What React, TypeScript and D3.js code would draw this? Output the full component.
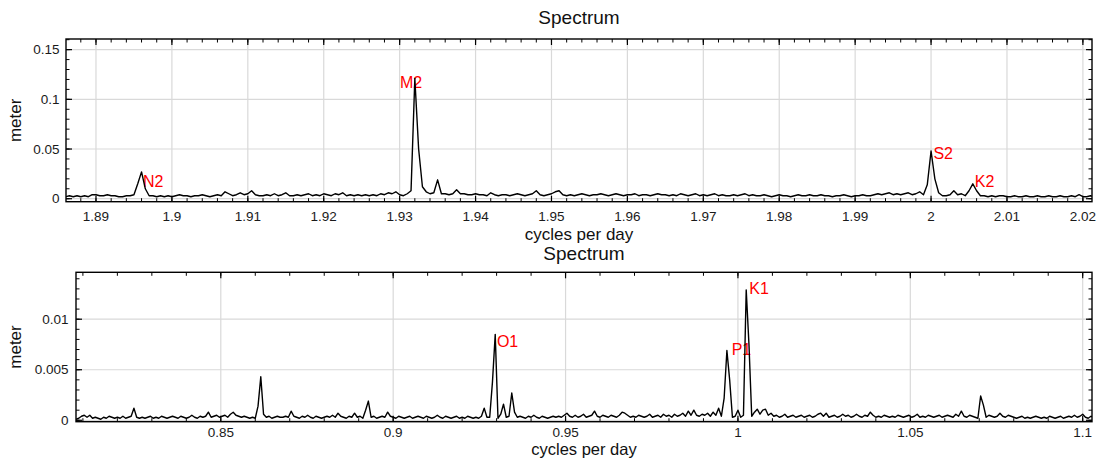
import React from 'react';
import * as d3 from 'd3';

// ---------- DATA ----------
// Semidiurnal band: amplitude in millimetres, frequency grid starts at 1.886 cpd, step 0.0005 cpd
const semiStart = 1.886;
const semiStep = 0.0005;
const semiAmpMm = [
  2, 3, 2, 3, 2, 3, 2, 4, 4, 3, 3, 4, 3, 3, 2, 2, 3, 3, 4, 15,
  27, 10, 3, 3, 2, 3, 2, 3, 2, 3, 4, 3, 3, 2, 3, 3, 4, 3, 2, 3,
  4, 3, 7, 5, 3, 4, 6, 4, 5, 8, 4, 3, 3, 4, 3, 5, 3, 4, 6, 3,
  3, 4, 3, 4, 5, 3, 4, 3, 5, 4, 3, 5, 4, 6, 3, 4, 3, 4, 3, 4,
  3, 4, 3, 5, 4, 6, 5, 7, 4, 3, 5, 8, 121, 50, 12, 7, 5, 6, 19, 5,
  5, 4, 5, 9, 5, 5, 4, 4, 5, 4, 4, 3, 6, 4, 3, 4, 4, 3, 4, 5,
  4, 3, 4, 5, 8, 4, 3, 4, 5, 7, 8, 4, 3, 4, 3, 4, 5, 4, 3, 4,
  4, 5, 4, 3, 4, 5, 4, 3, 4, 4, 5, 3, 4, 4, 3, 4, 5, 4, 4, 3,
  4, 3, 5, 4, 3, 4, 5, 3, 4, 3, 4, 5, 3, 4, 3, 3, 4, 3, 4, 5,
  3, 4, 3, 3, 4, 3, 2, 3, 4, 3, 3, 2, 3, 4, 3, 3, 4, 3, 3, 4,
  3, 3, 2, 3, 3, 4, 3, 2, 3, 3, 4, 3, 3, 4, 5, 4, 5, 6, 4, 5,
  4, 5, 6, 4, 5, 7, 4, 14, 48, 20, 6, 3, 3, 4, 8, 4, 5, 3, 8, 15,
  8, 3, 3, 2, 3, 2, 3, 3, 2, 2, 3, 2, 2, 3, 2, 2, 3, 2, 2, 3,
  2, 2, 3, 2, 2, 3, 2, 4, 2, 2, 3, 2,
];

// Diurnal band: amplitude in units of 0.1 mm, frequency grid starts at 0.808 cpd, step 0.0008 cpd
const diurStart = 0.808;
const diurStep = 0.0008;
const diurAmp01mm = [
  1, 2, 4, 5, 3, 5, 2, 3, 2, 1, 3, 2, 4, 3, 2, 3, 2, 4, 2, 3, 4, 12, 3, 2, 3,
  2, 3, 4, 2, 3, 2, 4, 3, 2, 3, 4, 3, 2, 4, 3, 2, 3, 5, 3, 2, 4, 3, 4, 8, 3,
  4, 5, 3, 4, 5, 3, 6, 8, 5, 4, 3, 4, 3, 2, 3, 2, 14, 43, 6, 3, 4, 2, 3, 4, 3,
  3, 4, 3, 9, 4, 3, 2, 4, 3, 5, 3, 2, 4, 3, 2, 3, 4, 3, 5, 3, 7, 4, 3, 2, 4,
  3, 7, 3, 4, 2, 10, 19, 3, 4, 2, 3, 4, 3, 8, 4, 3, 2, 4, 3, 2, 3, 4, 2, 3, 4,
  3, 2, 4, 3, 2, 3, 5, 3, 2, 4, 3, 2, 3, 4, 2, 3, 2, 4, 3, 2, 3, 2, 4, 12, 3,
  3, 38, 85, 2, 6, 16, 3, 4, 27, 8, 3, 4, 3, 2, 4, 3, 5, 3, 2, 4, 3, 2, 3, 4, 3,
  4, 3, 5, 7, 4, 3, 5, 3, 4, 6, 3, 4, 5, 9, 4, 3, 5, 4, 3, 5, 4, 3, 5, 8, 7,
  5, 3, 4, 3, 5, 4, 3, 4, 6, 3, 4, 5, 3, 6, 4, 5, 3, 6, 4, 5, 7, 4, 9, 5, 10,
  5, 4, 6, 5, 7, 4, 8, 5, 12, 4, 22, 69, 40, 3, 4, 10, 3, 5, 129, 75, 4, 8, 11, 6, 10,
  11, 5, 7, 4, 5, 3, 4, 6, 3, 4, 5, 3, 4, 5, 3, 4, 5, 3, 4, 6, 7, 4, 7, 3, 4,
  5, 3, 4, 6, 4, 5, 3, 4, 6, 4, 3, 5, 4, 8, 5, 3, 4, 3, 5, 4, 3, 4, 3, 5, 4,
  3, 4, 5, 3, 4, 6, 3, 4, 3, 5, 4, 3, 4, 5, 3, 4, 5, 4, 3, 6, 4, 9, 4, 3, 5,
  4, 3, 2, 24, 15, 3, 5, 4, 3, 4, 7, 4, 3, 5, 4, 3, 2, 3, 4, 2, 3, 2, 3, 4, 3,
  2, 3, 2, 4, 3, 2, 3, 4, 2, 3, 4, 3, 5, 3, 4, 6, 3, 2, 4, 3,
];

// Tick values and labels
const semiXTicks = [1.89, 1.9, 1.91, 1.92, 1.93, 1.94, 1.95, 1.96, 1.97, 1.98, 1.99, 2.0, 2.01, 2.02];
const semiXTickLabels = ['1.89', '1.9', '1.91', '1.92', '1.93', '1.94', '1.95', '1.96', '1.97', '1.98', '1.99', '2', '2.01', '2.02'];
const semiYTicks = [0, 0.05, 0.1, 0.15];
const semiYTickLabels = ['0', '0.05', '0.1', '0.15'];

const diurXTicks = [0.85, 0.9, 0.95, 1.0, 1.05, 1.1];
const diurXTickLabels = ['0.85', '0.9', '0.95', '1', '1.05', '1.1'];
const diurYTicks = [0, 0.005, 0.01];
const diurYTickLabels = ['0', '0.005', '0.01'];

// Constituent annotations (label, frequency anchor, amplitude anchor)
const semiNames = ['N2', 'M2', 'S2', 'K2'];
const semiNameFreq = [1.89619, 1.93005, 2.00031, 2.00577];
const semiNameAmp = [0.0171, 0.1174, 0.0453, 0.0171];

const diurNames = ['O1', 'P1', 'K1'];
const diurNameFreq = [0.93009, 0.99817, 1.00331];
const diurNameAmp = [0.00784, 0.00705, 0.01299];

// ---------- CHART ----------
const FONT = "'Liberation Sans', Arial, Helvetica, sans-serif";

type PanelProps = {
  id: string;
  box: { l: number; r: number; t: number; b: number };
  xDomain: [number, number];
  yDomain: [number, number];
  pts: [number, number][];
  xTicks: number[];
  xTickLabels: string[];
  yTicks: number[];
  yTickLabels: string[];
  xMinor: number;
  yMinor: number;
  names: string[];
  nameF: number[];
  nameA: number[];
  titleY: number;
  xLabelY: number;
  xLabelSize: number;
  xTickLabelY: number;
  yTickGap: number;
};

function minorTicks(domain: [number, number], step: number): number[] {
  const k0 = Math.ceil(domain[0] / step - 1e-6);
  const k1 = Math.floor(domain[1] / step + 1e-6);
  return d3.range(k0, k1 + 1).map((k) => k * step);
}

function Panel(p: PanelProps) {
  const { l, r, t, b } = p.box;
  const x = d3.scaleLinear().domain(p.xDomain).range([l, r]);
  const y = d3.scaleLinear().domain(p.yDomain).range([b, t]);
  const line = d3
    .line<[number, number]>()
    .x((d) => x(d[0]))
    .y((d) => y(d[1]));
  const xm = minorTicks(p.xDomain, p.xMinor);
  const ym = minorTicks(p.yDomain, p.yMinor);
  const major = 6;
  const minor = 3.5;
  const cx = (l + r) / 2;
  const cy = (t + b) / 2;
  return (
    <g>
      <defs>
        <clipPath id={p.id}>
          <rect x={l} y={t} width={r - l} height={b - t} />
        </clipPath>
      </defs>
      <rect x={l} y={t} width={r - l} height={b - t} fill="#fff" />
      {/* grid */}
      {p.xTicks.map((v, i) => (
        <line key={'gx' + i} x1={x(v)} x2={x(v)} y1={t} y2={b} stroke="#d9d9d9" strokeWidth={1.2} />
      ))}
      {p.yTicks.map((v, i) => (
        <line key={'gy' + i} x1={l} x2={r} y1={y(v)} y2={y(v)} stroke="#d9d9d9" strokeWidth={1.2} />
      ))}
      {/* annotations (under the trace) */}
      {p.names.map((n, i) => (
        <text
          key={'n' + i}
          x={x(p.nameF[i])}
          y={y(p.nameA[i])}
          fill="#ff0000"
          fontSize={16}
          fontFamily={FONT}
          dominantBaseline="central"
        >
          {n}
        </text>
      ))}
      {/* trace */}
      <path d={line(p.pts) || ''} fill="none" stroke="#000" strokeWidth={1.4} clipPath={`url(#${p.id})`} strokeLinejoin="round" />
      {/* minor ticks */}
      {xm.map((v, i) => (
        <g key={'mx' + i}>
          <line x1={x(v)} x2={x(v)} y1={b} y2={b - minor} stroke="#000" strokeWidth={1} />
          <line x1={x(v)} x2={x(v)} y1={t} y2={t + minor} stroke="#000" strokeWidth={1} />
        </g>
      ))}
      {ym.map((v, i) => (
        <g key={'my' + i}>
          <line x1={l} x2={l + minor} y1={y(v)} y2={y(v)} stroke="#000" strokeWidth={1} />
          <line x1={r} x2={r - minor} y1={y(v)} y2={y(v)} stroke="#000" strokeWidth={1} />
        </g>
      ))}
      {/* major ticks + labels */}
      {p.xTicks.map((v, i) => (
        <g key={'tx' + i}>
          <line x1={x(v)} x2={x(v)} y1={b} y2={b - major} stroke="#000" strokeWidth={1.2} />
          <line x1={x(v)} x2={x(v)} y1={t} y2={t + major} stroke="#000" strokeWidth={1.2} />
          <text x={x(v)} y={p.xTickLabelY} textAnchor="middle" fontSize={13.5} fontFamily={FONT} fill="#1a1a1a">
            {p.xTickLabels[i]}
          </text>
        </g>
      ))}
      {p.yTicks.map((v, i) => (
        <g key={'ty' + i}>
          <line x1={l} x2={l + major} y1={y(v)} y2={y(v)} stroke="#000" strokeWidth={1.2} />
          <line x1={r} x2={r - major} y1={y(v)} y2={y(v)} stroke="#000" strokeWidth={1.2} />
          <text
            x={l - p.yTickGap}
            y={y(v)}
            textAnchor="end"
            dominantBaseline="central"
            fontSize={13.5}
            fontFamily={FONT}
            fill="#1a1a1a"
          >
            {p.yTickLabels[i]}
          </text>
        </g>
      ))}
      <rect x={l} y={t} width={r - l} height={b - t} fill="none" stroke="#000" strokeWidth={1.4} />
      {/* titles */}
      <text x={cx} y={p.titleY} textAnchor="middle" fontSize={19} fontFamily={FONT} fill="#111">
        Spectrum
      </text>
      <text x={cx} y={p.xLabelY} textAnchor="middle" fontSize={p.xLabelSize} fontFamily={FONT} fill="#111">
        cycles per day
      </text>
      <text
        transform={`translate(21,${cy}) rotate(-90)`}
        textAnchor="middle"
        fontSize={17}
        fontFamily={FONT}
        fill="#111"
      >
        meter
      </text>
    </g>
  );
}

export default function App() {
  const semiPts: [number, number][] = semiAmpMm.map((a, i) => [semiStart + i * semiStep, a / 1000]);
  const diurPts: [number, number][] = diurAmp01mm.map((a, i) => [diurStart + i * diurStep, a / 10000]);
  return (
    <svg
      width={1097}
      height={458}
      style={{ position: 'absolute', left: 0, top: 0, background: '#fff' }}
    >
      <rect width={1097} height={458} fill="#fff" />
      <Panel
        id="clipA"
        box={{ l: 66, r: 1092, t: 39, b: 201.7 }}
        xDomain={[1.88605, 2.0212]}
        yDomain={[-0.003, 0.1607]}
        pts={semiPts}
        xTicks={semiXTicks}
        xTickLabels={semiXTickLabels}
        yTicks={semiYTicks}
        yTickLabels={semiYTickLabels}
        xMinor={0.002}
        yMinor={0.01}
        names={semiNames}
        nameF={semiNameFreq}
        nameA={semiNameAmp}
        titleY={24}
        xLabelY={240}
        xLabelSize={17}
        xTickLabelY={221}
        yTickGap={6.5}
      />
      <Panel
        id="clipB"
        box={{ l: 76, r: 1092, t: 272.3, b: 421.7 }}
        xDomain={[0.808, 1.1027]}
        yDomain={[-0.00014, 0.01464]}
        pts={diurPts}
        xTicks={diurXTicks}
        xTickLabels={diurXTickLabels}
        yTicks={diurYTicks}
        yTickLabels={diurYTickLabels}
        xMinor={0.01}
        yMinor={0.001}
        names={diurNames}
        nameF={diurNameFreq}
        nameA={diurNameAmp}
        titleY={259.5}
        xLabelY={454.5}
        xLabelSize={16.5}
        xTickLabelY={436.5}
        yTickGap={7.5}
      />
    </svg>
  );
}
